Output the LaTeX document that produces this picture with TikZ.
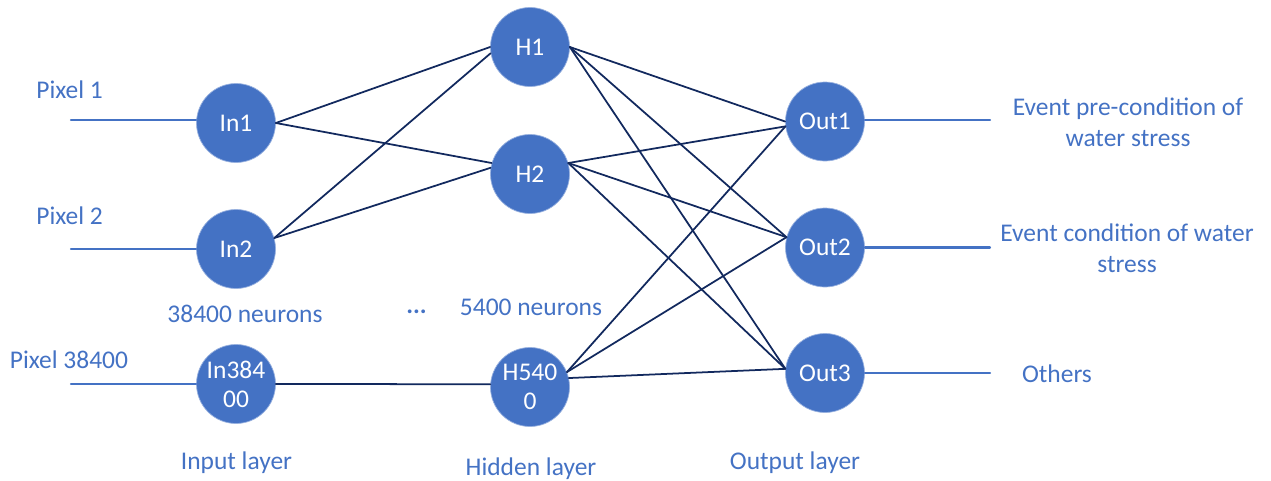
\documentclass[tikz,border=0pt]{standalone}
\usepackage{fontspec}
\setmainfont{Carlito}
\definecolor{nodeblue}{HTML}{4472C4}
\definecolor{linkblue}{HTML}{12295E}
\begin{document}
\begin{tikzpicture}[line cap=round,line join=round,
  every node/.style={font=\fontsize{14.5}{17.6}\selectfont},
  neuron/.style={circle,fill=nodeblue,draw=nodeblue!55!white,line width=0.4pt,
    minimum size=1.58cm,inner sep=0pt,text=white,align=center},
  lbl/.style={text=nodeblue,inner sep=0pt},
  feed/.style={draw=nodeblue,line width=1.2pt},
  link/.style={draw=linkblue,line width=1pt}]
  \useasboundingbox (0,0) rectangle (25.42,9.6);
  % neurons
  \node[neuron] (In1) at (4.72,7.14) {In1};
  \node[neuron] (In2) at (4.72,4.62) {In2};
  \node[neuron] (In3) at (4.72,1.92) {In384\\[-1pt]00};
  \node[neuron] (H1) at (10.60,8.66) {H1};
  \node[neuron] (H2) at (10.60,6.12) {H2};
  \node[neuron] (H3) at (10.60,1.86) {H540\\[-1pt]0};
  \node[neuron] (Out1) at (16.50,7.17) {Out1};
  \node[neuron] (Out2) at (16.50,4.65) {Out2};
  \node[neuron] (Out3) at (16.50,2.14) {Out3};
  % free ends of the input and output lines
  \coordinate (p1) at (1.42,7.20);
  \coordinate (p2) at (1.42,4.62);
  \coordinate (p3) at (1.42,1.92);
  \coordinate (o1) at (19.80,7.20);
  \coordinate (o2) at (19.80,4.65);
  \coordinate (o3) at (19.80,2.14);
  \draw[feed] (p1) -- (In1.west|-p1);
  \draw[feed] (p2) -- (In2.west);
  \draw[feed] (p3) -- (In3.west);
  \draw[feed] (Out1.east|-o1) -- (o1);
  \draw[feed] (Out2.east) -- (o2);
  \draw[feed] (Out3.east) -- (o3);
  % connections
  \foreach \a/\b in {In1.east/H1.west, In1.east/H2.164, In2.16/H1.189, In2.16/H2.171,
      In3.east/H3.176, H1.east/Out1.west, H1.east/Out2.165, H1.east/Out3.174,
      H2.16/Out1.187, H2.16/Out2.165, H2.16/Out3.174,
      H3.22/Out1.187, H3.22/Out2.165, H3.13/Out3.174}
    \draw[link] (\a) -- (\b);
  % labels
  \node[lbl,anchor=base west] (t1) at (0.72,7.64) {Pixel 1};
  \node[lbl,anchor=base west] (t2) at (0.72,5.12) {Pixel 2};
  \node[lbl,anchor=base west] (t3) at (0.19,2.24) {Pixel 38400};
  \node[lbl,anchor=base] (nin) at (4.90,3.16) {38400 neurons};
  \node[lbl,anchor=base] (dots) at (8.33,3.34) {\textbf{...}};
  \node[lbl,anchor=base] (nhid) at (10.62,3.30) {5400 neurons};
  \node[lbl,anchor=base] (lin) at (4.73,0.22) {Input layer};
  \node[lbl,anchor=base] (lhid) at (10.62,0.10) {Hidden layer};
  \node[lbl,anchor=base] (lout) at (15.90,0.22) {Output layer};
  \node[lbl,anchor=base,align=center] (e1) at (22.56,6.68) {Event pre-condition of\\water stress};
  \node[lbl,anchor=base,align=center] (e2) at (22.54,4.16) {Event condition of water\\stress};
  \node[lbl,anchor=base] (e3) at (21.14,1.96) {Others};
\end{tikzpicture}
\end{document}
